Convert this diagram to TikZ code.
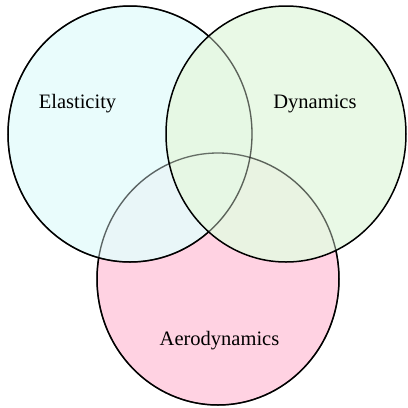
\documentclass[tikz,border=0pt]{standalone}
\usepackage{fontspec}
\setmainfont{Liberation Serif}
\usetikzlibrary{shapes.geometric}
\definecolor{cyanfill}{HTML}{E6FCFC}
\definecolor{greenfill}{HTML}{E6F8E2}
\definecolor{pinkfill}{HTML}{FFD2E2}
\begin{document}
\begin{tikzpicture}[x=1pt,y=-1pt,
  setcircle/.style={ellipse, draw=black, line width=1.5pt, inner sep=0pt, fill opacity=0.88},
  ghostline/.style={ellipse, draw=black, line width=1.3pt, inner sep=0pt, draw opacity=0.55},
  setlabel/.style={font=\fontsize{20.5}{24}\selectfont, text=black}]
\useasboundingbox (0,0) rectangle (408,408);
\node[setcircle, fill=pinkfill, fill opacity=1, minimum width=242pt, minimum height=252pt] (aero) at (218,279) {};
\node[setcircle, fill=cyanfill, minimum width=244pt, minimum height=256pt] (elas) at (130,134) {};
\node[setcircle, fill=greenfill, minimum width=240pt, minimum height=256pt] (dyn) at (286,134) {};
\node[ghostline, minimum width=242pt, minimum height=252pt] (aeroline) at (aero.center) {};
\node[ghostline, minimum width=244pt, minimum height=256pt] (elasline) at (elas.center) {};
\node[setlabel] (elasl) at (77.5,104) {Elasticity};
\node[setlabel] (dynl) at (315,104) {Dynamics};
\node[setlabel] (aerol) at (219.5,341) {Aerodynamics};
\end{tikzpicture}
\end{document}
